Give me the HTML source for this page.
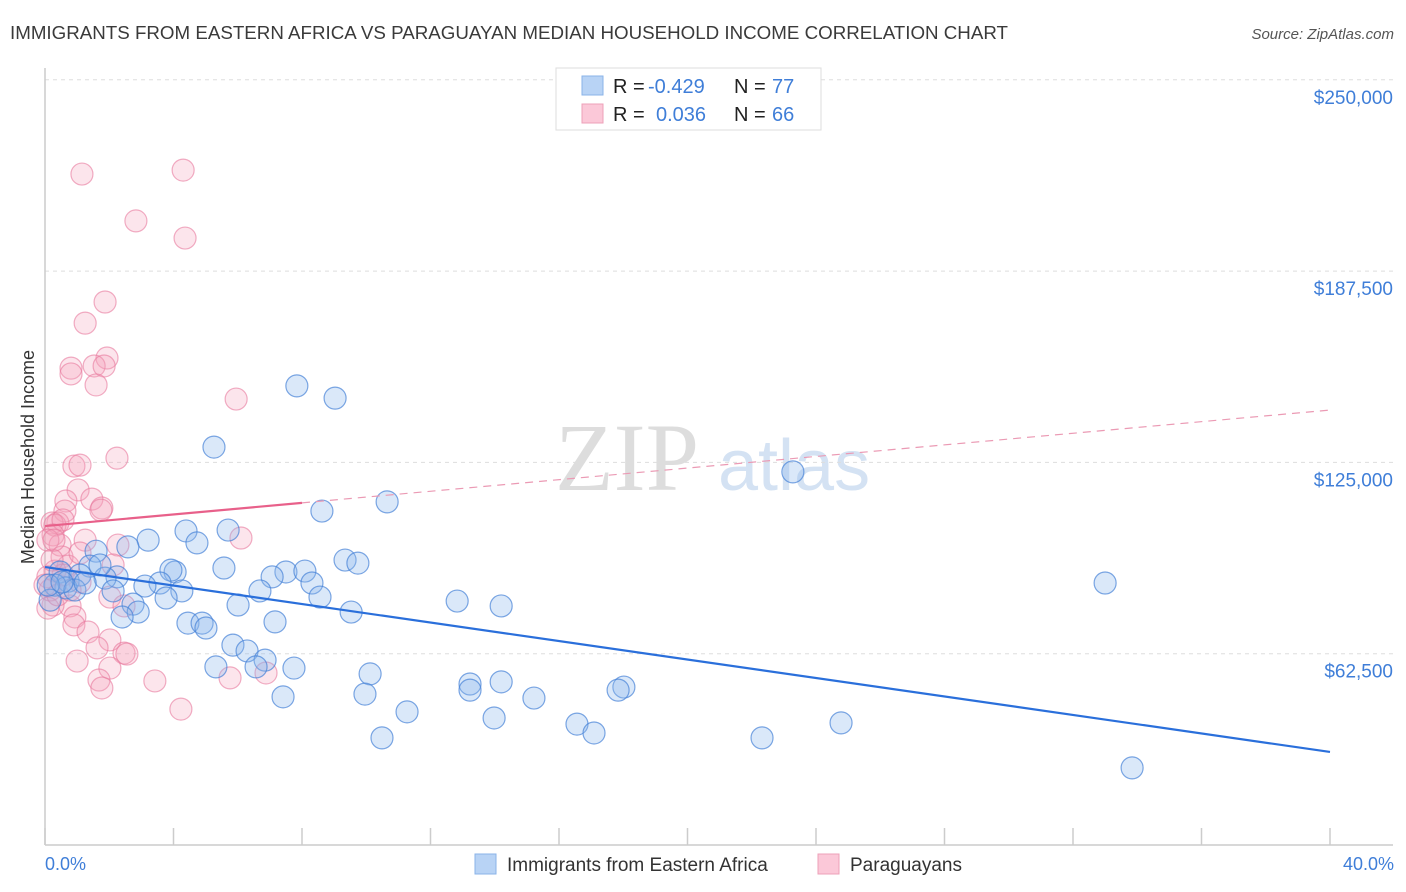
<!DOCTYPE html>
<html><head><meta charset="utf-8"><style>
body{margin:0;background:#fff;font-family:"Liberation Sans",sans-serif;}
svg{display:block}
</style></head><body>
<svg id="chart" width="1406" height="892">
<text x="10" y="39" font-size="18" fill="#3a3a3a" textLength="998" lengthAdjust="spacingAndGlyphs">IMMIGRANTS FROM EASTERN AFRICA VS PARAGUAYAN MEDIAN HOUSEHOLD INCOME CORRELATION CHART</text>
<text x="1394" y="39" font-size="15" fill="#555" font-style="italic" text-anchor="end">Source: ZipAtlas.com</text>
<g>
<text x="555" y="490" font-size="96" fill="#cfcfcf" font-family="Liberation Serif,serif" opacity="0.7">ZIP</text>
<text x="718" y="490" font-size="72" fill="#c3d7ee" opacity="0.7">atlas</text>
</g>
<g id="grid"></g>
<g id="axes"></g>
<g id="pts"></g>
<g id="trends"></g>
<text transform="translate(34,457) rotate(-90)" font-size="18" fill="#333" text-anchor="middle">Median Household Income</text>
<text x="45" y="870" font-size="18" fill="#3f7ed8">0.0%</text>
<text x="1394" y="870" font-size="18" fill="#3f7ed8" text-anchor="end">40.0%</text>
<g>
<rect x="556" y="68" width="265" height="62" fill="#fff" stroke="#ddd"/>
<rect x="582" y="76" width="21" height="19" fill="#b8d3f5" stroke="#8ab3e8"/>
<rect x="582" y="104" width="21" height="19" fill="#fbc8d8" stroke="#eea0b8"/>
<text x="613" y="93" font-size="20" fill="#222">R = <tspan fill="#3f7ed8" x="648">-0.429</tspan><tspan x="734">N = </tspan><tspan fill="#3f7ed8" x="772">77</tspan></text>
<text x="613" y="121" font-size="20" fill="#222">R = <tspan fill="#3f7ed8" x="656">0.036</tspan><tspan x="734">N = </tspan><tspan fill="#3f7ed8" x="772">66</tspan></text>
</g>
<g>
<rect x="475" y="854" width="21" height="20" fill="#b8d3f5" stroke="#8ab3e8"/>
<text x="507" y="871" font-size="19" fill="#333">Immigrants from Eastern Africa</text>
<rect x="818" y="854" width="21" height="20" fill="#fbc8d8" stroke="#eea0b8"/>
<text x="850" y="871" font-size="19" fill="#333">Paraguayans</text>
</g>
</svg>
<script>
const yTicks=[62500,125000,187500,250000];
const yTickLabels=["$62,500","$125,000","$187,500","$250,000"];
const xTicks=[0,4,8,12,16,20,24,28,32,36,40];
const blueX=[7.84,9.03,5.26,23.28,10.65,8.62,33.0,3.21,4.39,2.58,4.73,5.70,1.59,1.40,0.47,9.34,9.74,5.57,4.05,3.92,7.50,8.09,7.07,8.31,2.24,1.87,0.72,1.09,3.58,3.11,4.26,6.69,2.12,0.65,0.31,8.56,3.77,2.74,12.83,14.20,6.01,2.90,9.53,4.45,4.89,5.01,7.16,2.40,5.85,6.29,6.85,7.75,5.32,6.57,10.12,13.23,14.20,18.02,17.84,13.23,9.96,15.22,7.41,11.27,13.98,16.56,24.78,17.09,10.49,22.32,33.84,0.16,0.1,0.93,1.71,1.25,0.53];
const blueY=[150.0,146.0,130.0,121.9,112.1,109.1,85.6,99.6,102.6,97.4,98.7,102.9,96.0,91.1,89.2,93.1,92.1,90.5,89.2,89.8,89.2,89.5,87.6,85.6,87.6,87.2,86.2,88.2,85.6,84.6,83.0,83.0,83.0,84.0,84.9,81.0,80.7,78.7,79.7,78.1,78.4,76.1,76.1,72.5,72.5,70.9,72.9,74.5,65.3,63.4,60.4,57.8,58.2,58.2,55.9,52.6,53.3,51.6,50.6,50.6,49.3,48.0,48.4,43.5,41.5,39.5,39.9,36.6,35.0,35.0,25.2,80.0,84.9,83.3,91.5,85.6,85.9];
const pinkX=[1.15,4.30,2.83,4.36,1.87,1.25,1.93,0.81,1.53,1.84,0.81,1.59,5.95,2.24,0.90,1.09,1.03,0.65,1.46,1.77,1.74,0.62,0.40,0.22,0.31,0.56,0.25,6.10,2.27,1.25,0.47,0.09,0.53,0.72,2.12,0.31,0.56,1.09,0.09,2.02,0.78,2.46,0.25,0.93,0.90,1.34,2.02,1.62,2.46,2.55,1.00,2.02,5.76,3.42,6.88,1.68,1.77,4.23,0.16,0.09,0,0.40,0.78,0.22,0.28,1.09];
const pinkY=[219.2,220.5,203.9,198.3,177.4,170.5,159.1,155.8,156.5,156.5,153.9,150.3,145.7,126.4,123.8,124.1,116.0,112.4,113.0,110.1,109.4,109.1,105.2,105.2,104.5,106.2,101.3,100.3,98.0,99.6,98.0,99.6,94.1,91.1,91.5,89.5,88.2,85.9,87.6,81.0,78.1,78.1,78.4,74.5,71.9,69.6,67.0,64.4,62.7,62.4,60.1,57.8,54.6,53.6,56.2,53.9,51.3,44.4,83.3,77.4,84.9,81.7,83.3,93.1,99.6,95.4];
const blueTrend=[[0,90.8],[40,30.4]];
const pinkTrend=[[0,104.2],[40,142.1]];
const pinkSolidEnd=8;

const NS="http://www.w3.org/2000/svg";
const X0=45,X1=1330,Y0=845,PER=191.3/62.5;
function sx(v){return X0+(X1-X0)*v/40;}
function sy(k){return Y0-k*PER;}
function mk(tag,attrs,parent){const e=document.createElementNS(NS,tag);for(const k in attrs)e.setAttribute(k,attrs[k]);parent.appendChild(e);return e;}
const grid=document.getElementById('grid'),axes=document.getElementById('axes'),pts=document.getElementById('pts'),tr=document.getElementById('trends');
yTicks.forEach((t,i)=>{
  const y=sy(t/1000);
  const l=mk('line',{x1:X0,x2:1393,y1:y,y2:y,stroke:'#ddd','stroke-dasharray':'4,4'},grid);
  
  
  const tx=mk('text',{x:1393,y:y+24,'font-size':19,fill:'#3f7ed8','text-anchor':'end'},axes);
  tx.textContent=yTickLabels[i];
  
  
});
let a=mk('line',{x1:X0,x2:X0,y1:68,y2:Y0,stroke:'#ccc','stroke-width':1.5},axes);


a=mk('line',{x1:X0,x2:1393,y1:Y0,y2:Y0,stroke:'#ccc','stroke-width':1.5},axes);


xTicks.forEach(t=>{
  const l=mk('line',{x1:sx(t),x2:sx(t),y1:Y0-17,y2:Y0,stroke:'#ccc','stroke-width':1.5},axes);
  
  
});
pinkX.forEach((v,i)=>{
  const c=mk('circle',{cx:sx(v),cy:sy(pinkY[i]),r:11,fill:'rgba(244,160,188,0.28)',stroke:'rgba(232,120,156,0.6)','stroke-width':1.2},pts);
  
  
});
blueX.forEach((v,i)=>{
  const c=mk('circle',{cx:sx(v),cy:sy(blueY[i]),r:11,fill:'rgba(140,182,236,0.32)',stroke:'rgba(70,130,215,0.7)','stroke-width':1.2},pts);
  
  
});
let l=mk('line',{x1:sx(blueTrend[0][0]),y1:sy(blueTrend[0][1]),x2:sx(blueTrend[1][0]),y2:sy(blueTrend[1][1]),stroke:'#2a6fdb','stroke-width':2.2},tr);


const py=x=>pinkTrend[0][1]+(pinkTrend[1][1]-pinkTrend[0][1])*(x-pinkTrend[0][0])/(pinkTrend[1][0]-pinkTrend[0][0]);
l=mk('line',{x1:sx(0),y1:sy(py(0)),x2:sx(pinkSolidEnd),y2:sy(py(pinkSolidEnd)),stroke:'#e8608a','stroke-width':2.2},tr);


l=mk('line',{x1:sx(pinkSolidEnd),y1:sy(py(pinkSolidEnd)),x2:sx(40),y2:sy(py(40)),stroke:'#eb9ab4','stroke-width':1.2,'stroke-dasharray':'8,6'},tr);


</script>
</body></html>
